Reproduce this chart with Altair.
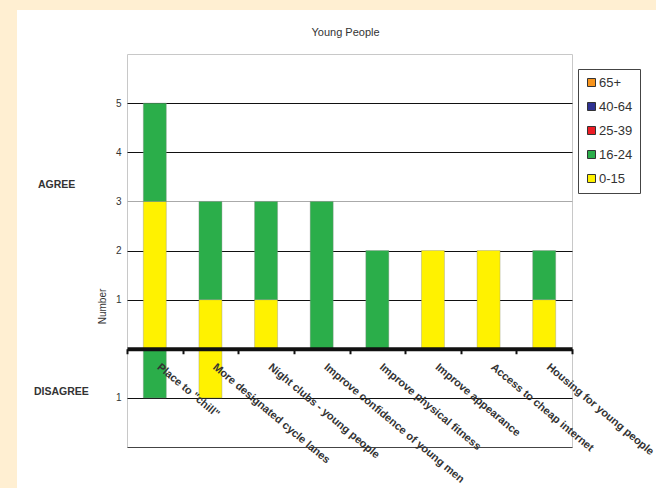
import altair as alt
import pandas as pd

# Survey responses: number of people agreeing / disagreeing per suggestion
categories = [
    'Place to "chill"',
    "More designated cycle lanes",
    "Night clubs - young people",
    "Improve confidence of young men",
    "Improve physical fitness",
    "Improve appearance",
    "Access to cheap internet",
    "Housing for young people",
]
age_groups = ["65+", "40-64", "25-39", "16-24", "0-15"]
group_colors = ["#F7941D", "#2E3192", "#ED1C24", "#2BAE4A", "#FFF200"]

agree_0_15 = [3, 1, 1, 0, 0, 2, 2, 1]
agree_16_24 = [2, 2, 2, 3, 2, 0, 0, 1]
disagree_0_15 = [0, 1, 0, 0, 0, 0, 0, 0]
disagree_16_24 = [1, 0, 0, 0, 0, 0, 0, 0]

rows = []
for i, cat in enumerate(categories):
    for grp, rank, agree, disagree in [
        ("0-15", 0, agree_0_15[i], disagree_0_15[i]),
        ("16-24", 1, agree_16_24[i], disagree_16_24[i]),
    ]:
        if agree:
            rows.append({"category": cat, "group": grp, "rank": rank, "value": agree})
        if disagree:
            rows.append({"category": cat, "group": grp, "rank": rank, "value": -disagree})
df = pd.DataFrame(rows)

FONT = "Liberation Sans"
TEXT = "#333333"

grid_color = {
    "condition": [
        {"test": "datum.value == 3", "value": "#aaaaaa"},
        {"test": "datum.value == -2", "value": "#444444"},
    ],
    "value": "#111111",
}

bars = alt.Chart(df).mark_bar(size=23, stroke="#8a8a8a", strokeWidth=0.6, strokeOpacity=0.6).encode(
    x=alt.X(
        "category:N",
        sort=categories,
        scale=alt.Scale(paddingInner=0, paddingOuter=0),
        axis=alt.Axis(
            title=None,
            orient="bottom",
            offset=-98.25,
            grid=False,
            domainColor="#111111",
            domainWidth=4,
            tickBand="extent",
            tickColor="#111111",
            tickWidth=2,
            tickSize=5,
            labelAngle=40,
            labelAlign="left",
            labelBaseline="top",
            labelFont=FONT,
            labelFontSize=11,
            labelFontWeight="bold",
            labelColor=TEXT,
            labelPadding=7,
            labelOffset=7,
            labelOverlap=False,
            labelBound=False,
            labelLimit=0,
            zindex=1,
        ),
    ),
    y=alt.Y(
        "value:Q",
        stack="zero",
        scale=alt.Scale(domain=[-2, 6], nice=False, zero=False),
        axis=alt.Axis(
            title="Number",
            titleFont=FONT,
            titleFontSize=10,
            titleFontWeight="normal",
            titleColor=TEXT,
            titleAngle=-90,
            titleX=-25,
            titleY=252,
            titleAlign="center",
            titleBaseline="middle",
            values=[-2, -1, 1, 2, 3, 4, 5],
            labelExpr="datum.value <= -2 ? '' : '' + abs(datum.value)",
            ticks=False,
            domain=False,
            labelFont=FONT,
            labelFontSize=10,
            labelColor=TEXT,
            labelPadding=6,
            gridColor=grid_color,
            gridWidth=1,
            zindex=0,
        ),
    ),
    color=alt.Color(
        "group:N",
        scale=alt.Scale(domain=age_groups, range=group_colors),
        legend=alt.Legend(
            title=None,
            orient="none",
            legendX=451,
            legendY=15,
            strokeColor="#444444",
            fillColor="white",
            padding=7,
            symbolType="square",
            symbolSize=64,
            symbolStrokeColor="#333333",
            symbolStrokeWidth=1,
            labelFont=FONT,
            labelFontSize=13,
            labelColor=TEXT,
            labelOffset=1,
            rowPadding=10,
        ),
    ),
    order=alt.Order("rank:Q"),
)

# beige page border on the left and top
border_left = alt.Chart(pd.DataFrame({"k": [0]})).mark_rect(color="#FFEFD2").encode(
    x=alt.value(-127), x2=alt.value(-110), y=alt.value(-54), y2=alt.value(434)
)
border_top = alt.Chart(pd.DataFrame({"k": [0]})).mark_rect(color="#FFEFD2").encode(
    x=alt.value(-127), x2=alt.value(529), y=alt.value(-54), y2=alt.value(-44)
)

agree_label = alt.Chart(pd.DataFrame({"label": ["AGREE"]})).mark_text(
    font=FONT, fontSize=10.5, fontWeight="bold", color=TEXT, align="left", baseline="middle"
).encode(text="label:N", x=alt.value(-89), y=alt.value(131))

disagree_label = alt.Chart(pd.DataFrame({"label": ["DISAGREE"]})).mark_text(
    font=FONT, fontSize=10.5, fontWeight="bold", color=TEXT, align="left", baseline="middle"
).encode(text="label:N", x=alt.value(-93), y=alt.value(338))

chart = alt.layer(border_left, border_top, bars, agree_label, disagree_label).properties(
    width=445,
    height=393,
    # the title sits above the page border's extent, so dy pulls it back down
    title=alt.Title(
        "Young People",
        font=FONT,
        fontSize=11,
        fontWeight="normal",
        color=TEXT,
        anchor="middle",
        frame="group",
        offset=16,
        dx=-4,
        dy=65,
        baseline="bottom",
    ),
    autosize=alt.AutoSizeParams(type="none"),
    padding={"left": 127, "top": 54, "right": 84, "bottom": 41},
    background="white",
).configure_view(stroke="#c8c8c8", strokeWidth=1)

chart.save("out.html", embed_options={"renderer": "svg", "actions": False})
